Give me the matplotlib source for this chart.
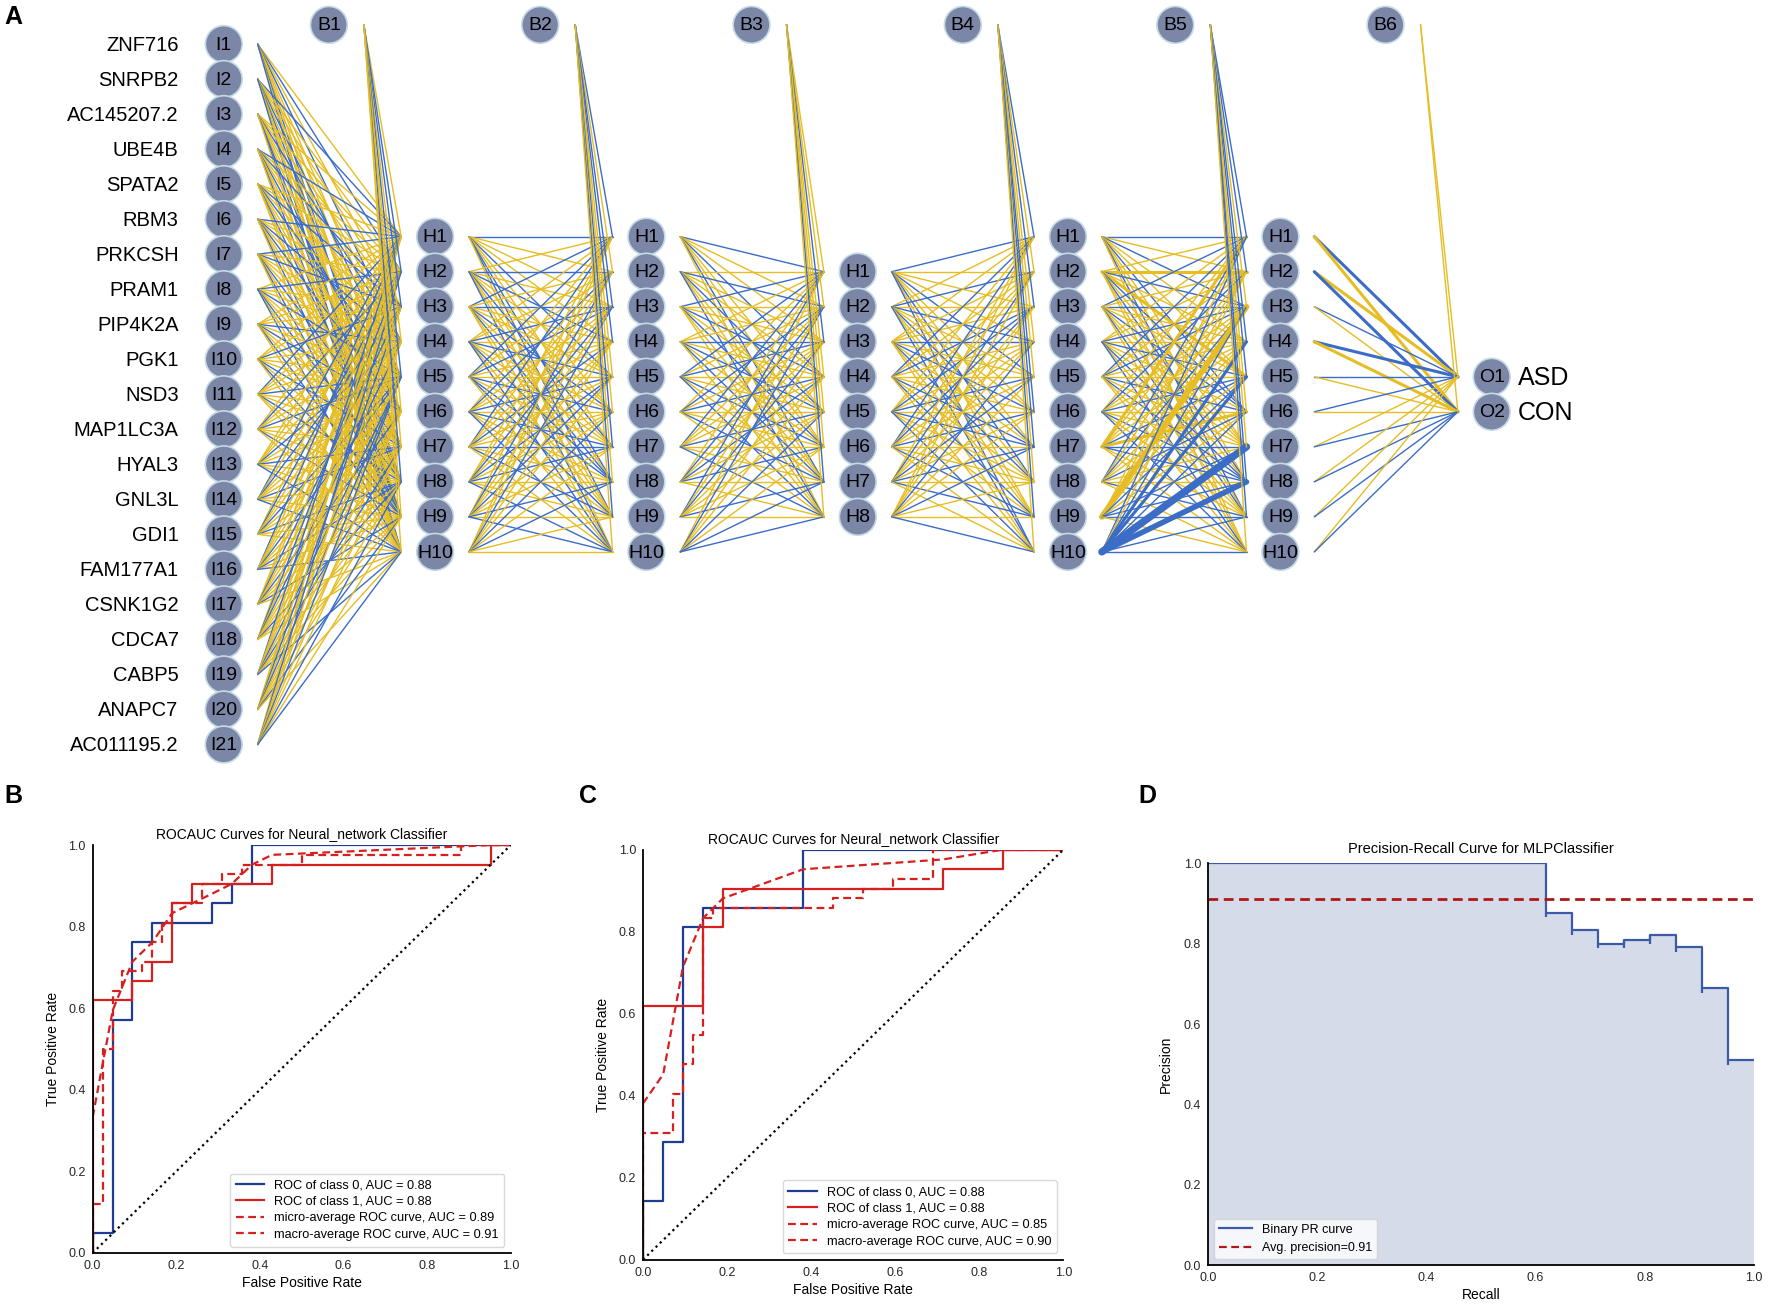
import matplotlib.pyplot as plt
from matplotlib.patches import Circle
from matplotlib.lines import Line2D

plt.rcParams['font.family'] = ['Liberation Sans', 'DejaVu Sans']

# ---------------- panel A : network ----------------
genes = ["ZNF716", "SNRPB2", "AC145207.2", "UBE4B", "SPATA2", "RBM3", "PRKCSH",
         "PRAM1", "PIP4K2A", "PGK1", "NSD3", "MAP1LC3A", "HYAL3", "GNL3L", "GDI1",
         "FAM177A1", "CSNK1G2", "CDCA7", "CABP5", "ANAPC7", "AC011195.2"]
layer_sizes = [21, 10, 10, 8, 10, 10, 2]
out_labels = ["ASD", "CON"]

# sign of each weight (b = negative / blue, y = positive / yellow), upper case = large weight
W1 = ["ybybyyybyb", "byyybybyyb", "yyybyyybby", "bybyybyyby", "yybybyybyy",
      "byybybyyby", "bybyyybyby", "ybyybyybyb", "yyybybyyby", "yybyyybyby",
      "byyybyybyy", "ybyybyyyby", "yyybyybyyb", "bybyyybyyb", "ybyybyybyy",
      "byyybyybyb", "yybyybyyby", "ybybyyybyy", "byyybybyyb", "yybybyyyby",
      "ybyybyybyb"]
W2 = ["byyybyybby", "ybybyybyyb", "bybyybybyy", "yybybyybyb", "bybyybybby",
      "ybyybybyyb", "byybyybyby", "yybybybyyb", "ybyybyybyb", "yybyybybyy"]
W3 = ["byybyyby", "ybyybyyb", "byybybyy", "yybybyby", "bybyybyb",
      "ybybyyby", "byyybyyb", "ybybybyy", "bybyyyby", "ybyybybb"]
W4 = ["byyybyybyb", "ybybyybyyb", "yyybybybyy", "bybyyybyby",
      "yybybybyyb", "bybyybyyby", "ybyybybyby", "yyybyybyyb"]
W5 = ["bybyybyyby", "yYbyYbybyy", "bybyybyyby", "yybybyybyb", "bybyybybyy",
      "ybyybyybyb", "YyyybYbbyy", "bybyybyyby", "yyYybybbby", "bybBBbBBbb"]
W6 = ["BY", "YB", "by", "BY", "by", "by", "yb", "yb", "yb", "yb"]
weights = [W1, W2, W3, W4, W5, W6]
# very large weights in layer 5 (source, target): relative size
strong5 = {(9, 6): 2.4, (9, 7): 1.8, (8, 2): 1.9}

bias_signs = ["ybbybyybyy", "bybbyybyby", "yybyyyby", "bybyybbyby", "bbybbyybby", "yy"]

# ---------------- panels B / C : ROC ----------------
b0_fpr = [0, 0, 0.048, 0.048, 0.095, 0.095, 0.143, 0.143, 0.286, 0.286, 0.333, 0.333, 0.381, 0.381, 1.0]
b0_tpr = [0, 0.048, 0.048, 0.571, 0.571, 0.762, 0.762, 0.810, 0.810, 0.857, 0.857, 0.905, 0.905, 1.0, 1.0]
b1_fpr = [0, 0, 0.095, 0.095, 0.143, 0.143, 0.190, 0.190, 0.238, 0.238, 0.429, 0.429, 0.952, 0.952, 1.0]
b1_tpr = [0, 0.619, 0.619, 0.667, 0.667, 0.714, 0.714, 0.857, 0.857, 0.905, 0.905, 0.952, 0.952, 1.0, 1.0]
bmi_fpr = [0, 0, 0.024, 0.024, 0.048, 0.048, 0.071, 0.071, 0.119, 0.119, 0.143, 0.143, 0.167, 0.167,
           0.190, 0.190, 0.262, 0.262, 0.310, 0.310, 0.357, 0.357, 0.500, 0.500, 0.881, 0.881, 1.0]
bmi_tpr = [0, 0.119, 0.119, 0.500, 0.500, 0.643, 0.643, 0.690, 0.690, 0.714, 0.714, 0.762, 0.762, 0.810,
           0.810, 0.857, 0.857, 0.905, 0.905, 0.929, 0.929, 0.952, 0.952, 0.976, 0.976, 1.0, 1.0]
bma_fpr = [0, 0.048, 0.095, 0.143, 0.190, 0.238, 0.286, 0.333, 0.381, 0.429, 0.952, 1.0]
bma_tpr = [0.333, 0.595, 0.714, 0.762, 0.833, 0.857, 0.881, 0.905, 0.952, 0.976, 1.0, 1.0]
b_auc = [0.88, 0.88, 0.89, 0.91]

c0_fpr = [0, 0, 0.048, 0.048, 0.095, 0.095, 0.143, 0.143, 0.381, 0.381, 1.0]
c0_tpr = [0, 0.143, 0.143, 0.286, 0.286, 0.810, 0.810, 0.857, 0.857, 1.0, 1.0]
c1_fpr = [0, 0, 0.143, 0.143, 0.190, 0.190, 0.714, 0.714, 0.857, 0.857, 1.0]
c1_tpr = [0, 0.619, 0.619, 0.810, 0.810, 0.905, 0.905, 0.952, 0.952, 1.0, 1.0]
cmi_fpr = [0, 0, 0.071, 0.071, 0.095, 0.095, 0.119, 0.119, 0.143, 0.143, 0.167, 0.167,
           0.452, 0.452, 0.524, 0.524, 0.595, 0.595, 0.690, 0.690, 1.0]
cmi_tpr = [0, 0.310, 0.310, 0.405, 0.405, 0.476, 0.476, 0.548, 0.548, 0.833, 0.833, 0.857,
           0.857, 0.881, 0.881, 0.905, 0.905, 0.929, 0.929, 1.0, 1.0]
cma_fpr = [0, 0.048, 0.095, 0.143, 0.190, 0.381, 0.714, 0.857, 1.0]
cma_tpr = [0.381, 0.452, 0.714, 0.833, 0.881, 0.952, 0.976, 1.0, 1.0]
c_auc = [0.88, 0.88, 0.85, 0.90]
diag = [0, 1]

# ---------------- panel D : precision-recall ----------------
pr_recall = [0.0, 0.619, 0.667, 0.714, 0.762, 0.810, 0.857, 0.905, 0.952, 1.0]
pr_precision = [1.0, 0.875, 0.833, 0.800, 0.810, 0.821, 0.792, 0.690, 0.510, 0.510]
pr_dip = [1.0, 0.866, 0.822, 0.789, 0.790, 0.800, 0.780, 0.678, 0.498, 0.510]
avg_precision = 0.91

# ---------------- layout (reference frame units) ----------------
W, H = 1568, 1156
BLUE, YELLOW = '#3b6cc6', '#e6bd24'
NODE_FC, NODE_EC = '#7c87a8', '#c4dbe6'
layer_x = [198, 385, 572, 759, 945, 1133, 1320]
bias_x = [291, 478, 665, 852, 1040, 1226]
bias_y = 22
y_mid, step, r, gap = 349, 31, 16.3, 30


def node_y(n, i):
    return y_mid + (i - (n - 1) / 2) * step


def box(x0, y0, x1, y1):
    return [x0 / W, 1 - y1 / H, (x1 - x0) / W, (y1 - y0) / H]


fig = plt.figure(figsize=(17.72, 13.06), dpi=100)
ax = fig.add_axes([0, 0, 1, 1])
ax.set_xlim(0, W)
ax.set_ylim(H, 0)
ax.axis('off')

# edges
for l, mat in enumerate(weights):
    n_src, n_dst = layer_sizes[l], layer_sizes[l + 1]
    x0, x1 = layer_x[l] + gap, layer_x[l + 1] - gap
    for i in range(n_src):
        for j in range(n_dst):
            c = mat[i][j]
            col = BLUE if c.lower() == 'b' else YELLOW
            lw = 1.0 if c.islower() else 2.2
            if l == 4 and (i, j) in strong5:
                lw = 2.2 * strong5[(i, j)]
            ax.plot([x0, x1], [node_y(n_src, i), node_y(n_dst, j)], color=col, lw=lw,
                    solid_capstyle='round', zorder=2)
    # bias
    for j in range(n_dst):
        col = BLUE if bias_signs[l][j] == 'b' else YELLOW
        ax.plot([bias_x[l] + gap + 1, x1], [bias_y, node_y(n_dst, j)], color=col, lw=1.0, zorder=2)

# nodes
def draw_node(x, y, label):
    ax.add_patch(Circle((x, y), r, facecolor=NODE_FC, edgecolor=NODE_EC, lw=1.2, zorder=3))
    ax.text(x, y + 1, label, ha='center', va='center', fontsize=14, color='black', zorder=4)


for l, n in enumerate(layer_sizes):
    for i in range(n):
        prefix = 'I' if l == 0 else ('O' if l == len(layer_sizes) - 1 else 'H')
        draw_node(layer_x[l], node_y(n, i), f"{prefix}{i + 1}")
for k, bx in enumerate(bias_x):
    draw_node(bx, bias_y, f"B{k + 1}")

for i, g in enumerate(genes):
    ax.text(layer_x[0] - 40, node_y(21, i) + 1, g, ha='right', va='center', fontsize=14.5)
for i, t in enumerate(out_labels):
    ax.text(layer_x[-1] + 23, node_y(2, i) + 1, t, ha='left', va='center', fontsize=18)

ax.text(12, 15, 'A', fontsize=18, fontweight='bold', ha='center', va='center')
ax.text(12, 705, 'B', fontsize=18, fontweight='bold', ha='center', va='center')
ax.text(520, 705, 'C', fontsize=18, fontweight='bold', ha='center', va='center')
ax.text(1015, 705, 'D', fontsize=18, fontweight='bold', ha='center', va='center')

# ---------------- ROC panels ----------------
NAVY, RED = '#1f3c94', '#d61f1f'


def style_axes(a, font=None):
    a.set_xlim(0, 1)
    a.set_ylim(0, 1)
    for s in ['top', 'right']:
        a.spines[s].set_visible(False)
    for s in ['left', 'bottom']:
        a.spines[s].set_color('black')
        a.spines[s].set_linewidth(1.3)
    a.set_xticks([0, 0.2, 0.4, 0.6, 0.8, 1.0])
    a.set_yticks([0, 0.2, 0.4, 0.6, 0.8, 1.0])
    a.tick_params(length=0, labelsize=9, colors='#262626', pad=5)
    if font:
        for t in a.get_xticklabels() + a.get_yticklabels():
            t.set_family(font)


def roc_panel(a, c0, c1, mi, ma, aucs):
    a.plot(*c0, color=NAVY, lw=1.6, label=f"ROC of class 0, AUC = {aucs[0]:.2f}")
    a.plot(*c1, color=RED, lw=1.6, label=f"ROC of class 1, AUC = {aucs[1]:.2f}")
    a.plot(*mi, color=RED, lw=1.6, ls=(0, (3.5, 2)), label=f"micro-average ROC curve, AUC = {aucs[2]:.2f}")
    a.plot(*ma, color=RED, lw=1.6, ls=(0, (3.5, 2)), label=f"macro-average ROC curve, AUC = {aucs[3]:.2f}")
    a.plot(diag, diag, color='black', lw=1.6, ls=':')
    style_axes(a)
    a.set_title("ROCAUC Curves for Neural_network Classifier", fontsize=10, pad=5)
    a.set_xlabel("False Positive Rate", fontsize=10, labelpad=3)
    a.set_ylabel("True Positive Rate", fontsize=10, labelpad=6)
    a.legend(loc='lower right', fontsize=9.2, frameon=True, edgecolor='#d0d0d0',
             handlelength=2.2, borderpad=0.45, labelspacing=0.35)


axB = fig.add_axes(box(82, 748, 452, 1109))
roc_panel(axB, (b0_fpr, b0_tpr), (b1_fpr, b1_tpr), (bmi_fpr, bmi_tpr), (bma_fpr, bma_tpr), b_auc)
axC = fig.add_axes(box(569, 752, 941, 1115))
roc_panel(axC, (c0_fpr, c0_tpr), (c1_fpr, c1_tpr), (cmi_fpr, cmi_tpr), (cma_fpr, cma_tpr), c_auc)

# ---------------- PR panel ----------------
narrow = ['Liberation Sans Narrow', 'Liberation Sans']
axD = fig.add_axes(box(1069, 764, 1552, 1120))
PR_BLUE = '#3b5ba8'
axD.fill_between(pr_recall, pr_precision, step='post', color='#d5dbe9', lw=0)
axD.plot(pr_recall, pr_precision, drawstyle='steps-post', color=PR_BLUE, lw=1.6)
axD.vlines(pr_recall, pr_dip, pr_precision, color=PR_BLUE, lw=1.6)
axD.axhline(avg_precision, color='#b01818', lw=2, ls=(0, (3.5, 2)))
style_axes(axD, font=narrow)
axD.set_title("Precision-Recall Curve for MLPClassifier", fontsize=10.5, pad=7, family=narrow)
axD.set_xlabel("Recall", fontsize=10, labelpad=3)
axD.set_ylabel("Precision", fontsize=10, labelpad=8)
handles = [Line2D([], [], color=PR_BLUE, lw=1.6),
           Line2D([], [], color='#b01818', lw=1.6, ls=(0, (3.5, 2)))]
axD.legend(handles, ["Binary PR curve", f"Avg. precision={avg_precision:.2f}"], loc='lower left',
           frameon=True, edgecolor='#d0d0d0', handlelength=2.6,
           prop={'family': narrow, 'size': 9})

fig.savefig('out.png', dpi=100)
